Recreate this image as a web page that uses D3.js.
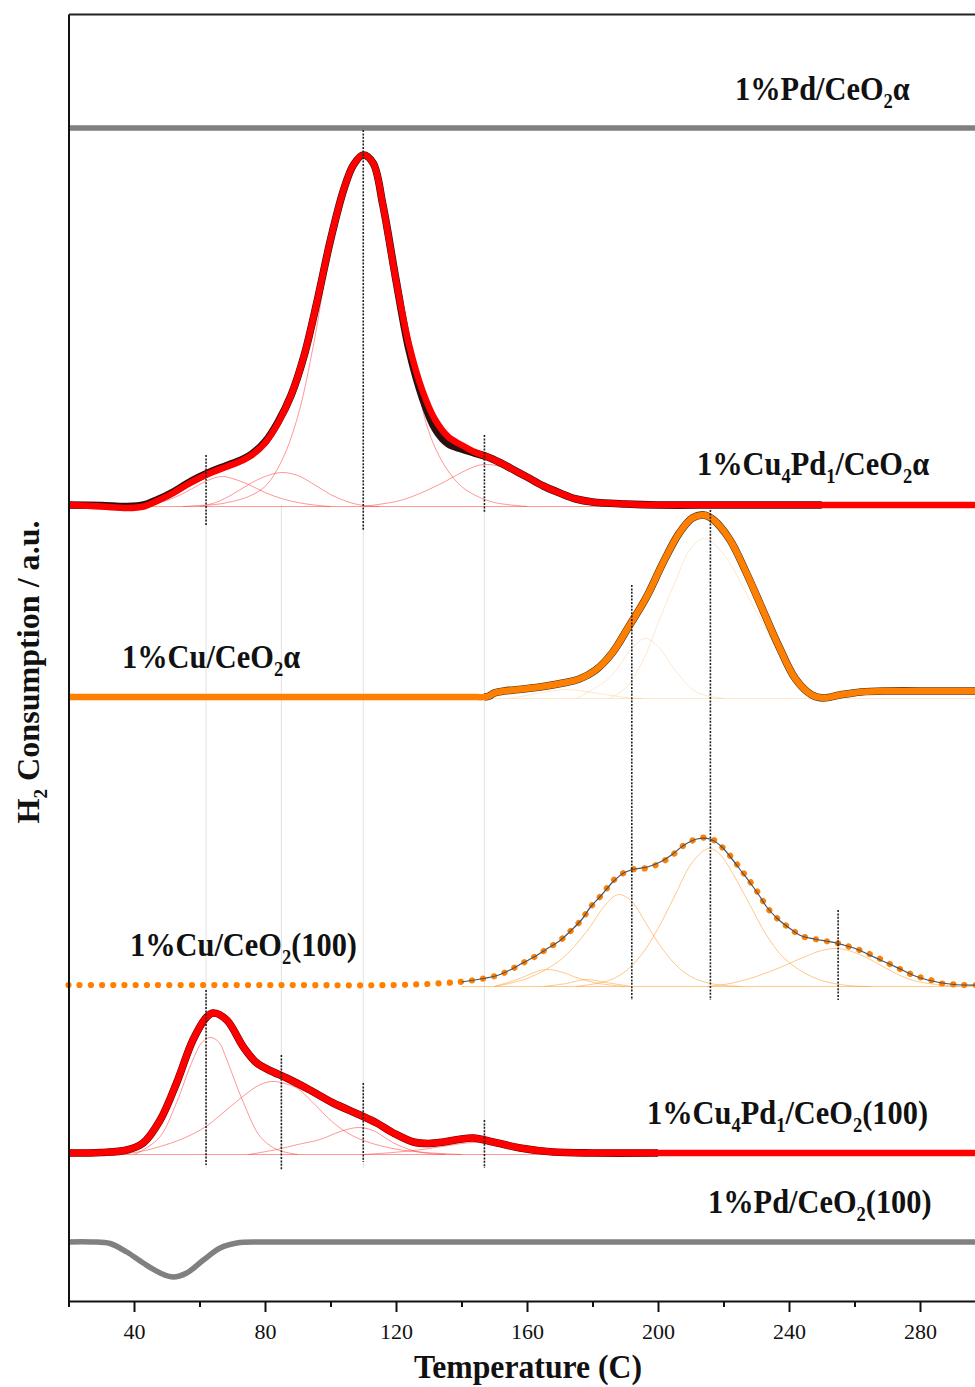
<!DOCTYPE html>
<html>
<head>
<meta charset="utf-8">
<script src="https://cdn.jsdelivr.net/npm/d3@7"></script>
<style>
  html, body { margin: 0; padding: 0; background: #fff; }
  svg { display: block; }
  text { font-family: "Liberation Serif", "Times New Roman", serif; fill: #111; }
</style>
</head>
<body>
<svg id="chart" width="975" height="1387"></svg>
<script>
// ---- Data: H2-TPR profiles (temperature in C, signal in a.u. above each trace's baseline) ----

// vertical offsets of the stacked traces (a.u.)
const offsets = {
  pdAlpha: 117.3,
  cuPdAlpha: 79.6,
  cuAlpha: 60.4,
  cu100: 31.6,
  cuPd100: 14.8,
  pd100: 5.9
};

// 1%Pd/CeO2 alpha
const pdAlpha = [[20, 0], [300, 0]];

// 1%Cu4Pd1/CeO2 alpha : fitted envelope, measured profile and deconvoluted peaks
const cuPdAlphaFit = [[20,0],[30,-0.15],[38,-0.3],[43,-0.15],[47,0.4],[52,1.2],[56,2.0],[60,2.7],[64,3.3],[68,3.8],[72,4.3],[76,5.0],[80,6.2],[84,8.2],[88,11.0],[92,15.0],[96,20.5],[100,26.5],[104,31.5],[107,34.0],[110,35.0],[113,34.2],[116,30.0],[120,22.5],[124,16.0],[128,11.5],[132,8.5],[136,6.8],[140,6.0],[144,5.3],[148,4.8],[152,4.2],[156,3.5],[160,2.8],[165,1.9],[170,1.2],[175,0.6],[180,0.3],[190,0.1],[200,0],[220,0],[250,0],[300,0]];
const cuPdAlphaMeas = [[20,0],[30,-0.05],[38,-0.15],[43,0],[47,0.5],[52,1.3],[56,2.1],[60,2.8],[64,3.4],[68,3.9],[72,4.4],[76,5.1],[80,6.3],[84,8.3],[88,11.0],[92,15.0],[96,20.5],[100,26.5],[104,31.5],[107,34.0],[110,35.0],[113,34.2],[116,30.0],[120,22.5],[124,15.5],[128,10.8],[132,7.6],[136,6.1],[140,5.6],[144,5.2],[148,4.8],[152,4.2],[156,3.5],[160,2.8],[165,1.9],[170,1.2],[175,0.6],[180,0.3],[190,0.1],[200,0],[220,0],[250,0]];
const cuPdAlphaPeaks = [
  [[40,0],[45,0.2],[50,0.6],[55,1.3],[60,2.2],[64,2.8],[67,3.0],[70,2.8],[75,2.2],[80,1.4],[85,0.8],[90,0.4],[95,0.15],[100,0]],
  [[60,0],[65,0.4],[70,1.2],[75,2.2],[80,3.0],[85,3.4],[90,3.1],[95,2.2],[100,1.2],[105,0.5],[110,0.1],[115,0]],
  [[55,0],[60,0.1],[65,0.2],[70,0.5],[75,1.0],[80,2.0],[85,4.5],[90,9.0],[95,16.5],[100,26.0],[105,32.5],[110,35.0],[115,32.0],[120,22.0],[125,14.5],[130,7.5],[135,4.0],[140,2.0],[145,1.0],[150,0.4],[160,0]],
  [[110,0],[120,0.5],[125,1.0],[130,1.7],[135,2.5],[140,3.4],[145,4.1],[148,4.2],[152,4.0],[158,3.2],[165,2.0],[172,1.0],[180,0.3],[190,0]]
];

// 1%Cu/CeO2 alpha
const cuAlphaFit = [[20,0],[60,0],[100,0],[130,0],[143,0],[147,0],[148.5,0.1],[150,0.4],[153,0.6],[156,0.7],[164,1.0],[171,1.4],[176,1.8],[181,2.7],[186,4.4],[191,7.0],[196.5,10.0],[201.5,13.4],[206.5,16.4],[210.5,17.9],[214,18.2],[217,17.7],[222,15.7],[227,12.4],[232,8.7],[237,5.0],[242,1.8],[247,0.2],[250.5,-0.1],[255.5,0.2],[262,0.5],[270,0.6],[285,0.6],[300,0.6]];
const cuAlphaPeaks = [
  [[155,0],[165,0.6],[172,0.9],[180,0.6],[190,0.1],[195,0]],
  [[175,0],[185,2.0],[192,5.0],[196,6.0],[200,5.2],[206,2.5],[212,0.6],[220,0]],
  [[185,0],[190,1.0],[195,3.5],[200,7.5],[205,11.5],[210,15.0],[214,16.0],[218,15.2],[222,13.5],[227,10.5],[232,7.5],[237,4.5],[242,2.0],[247,0.6],[255,0]]
];

// 1%Cu/CeO2(100) : measured points (dotted) and fit
const cu100Meas = [[20,0],[80,0],[120,0],[135,0.2],[142,0.4],[147.5,0.7],[151.4,1.0],[154.8,1.5],[158.7,2.2],[162.7,2.9],[166,3.6],[169.9,4.4],[173.3,5.4],[176.6,6.5],[179.4,7.8],[182.8,9.0],[186.2,10.4],[189.5,11.2],[192.9,11.6],[196.8,11.7],[200.7,12.2],[204.1,12.9],[208,14.0],[211.9,14.6],[215.8,14.7],[219.2,13.9],[222.6,12.7],[225.4,11.5],[228.2,10.3],[231,9.0],[233.2,7.8],[236.6,6.6],[240.5,5.6],[243.9,4.9],[247.8,4.6],[251.1,4.4],[254.5,4.2],[256.7,4.0],[260.6,3.6],[264.6,3.1],[267.9,2.6],[271.3,2.0],[275.2,1.4],[278.5,0.9],[282.4,0.6],[285.8,0.2],[289.1,0.1],[293,0],[300,0]];
const cu100Fit = [[140,0.3],[147.5,0.7],[151.4,1.0],[154.8,1.5],[158.7,2.2],[162.7,2.9],[166,3.6],[169.9,4.4],[173.3,5.4],[176.6,6.5],[179.4,7.8],[182.8,9.0],[186.2,10.3],[189.5,11.2],[192.9,11.6],[196.8,11.8],[200.7,12.3],[204.1,13.0],[208,14.0],[211.9,14.6],[215.8,14.6],[219.2,13.9],[222.6,12.6],[225.4,11.4],[228.2,10.2],[231,8.9],[233.2,7.8],[236.6,6.6],[240.5,5.6],[243.9,4.9],[247.8,4.6],[251.1,4.4],[254.5,4.2],[256.7,4.0],[260.6,3.6],[264.6,3.0],[267.9,2.5],[271.3,2.0],[275.2,1.4],[278.5,0.9],[282.4,0.5],[285.8,0.25],[289.1,0.1],[293,0],[300,0]];
const cu100Peaks = [
  [[150,0],[157,0.7],[163,1.5],[166,1.7],[170,1.5],[176,0.8],[182,0.3],[190,0]],
  [[165,0],[172,0.3],[178,0.7],[184,0.4],[192,0]],
  [[150,0],[160,0.8],[170,2.6],[178,5.4],[184,8.2],[188,9.2],[192,8.5],[196,6.5],[200,4.4],[205,2.3],[210,1.0],[216,0.3],[225,0]],
  [[175,0],[185,0.6],[190,1.5],[195,3.2],[200,5.8],[205,9.0],[210,12.2],[214,13.6],[216,13.8],[219,13.2],[223,11.2],[228,8.2],[233,5.2],[238,3.0],[244,1.5],[250,0.6],[258,0.1],[265,0]],
  [[215,0],[222,0.3],[230,1.0],[238,2.0],[245,3.0],[250,3.6],[255,3.8],[260,3.4],[266,2.5],[272,1.4],[278,0.6],[285,0.2],[292,0]]
];

// 1%Cu4Pd1/CeO2(100)
const cuPd100Fit = [[20,0],[30,0.05],[37.8,0.3],[42.8,1.0],[48,3.3],[53,7.0],[58,11.3],[62.2,13.6],[64.2,14.0],[68.3,13.3],[73.4,10.6],[77.5,9.0],[82.5,8.1],[86.6,7.5],[93.7,6.3],[100.8,5.0],[109,3.8],[114.1,3.0],[119.2,2.0],[125.3,1.1],[130,0.95],[134.5,1.1],[139,1.35],[143.6,1.5],[149.7,1.1],[157.9,0.5],[168,0.1],[180,0],[200,0],[240,0],[300,0]];
const cuPd100Meas = [[20,0],[30,0.05],[37.8,0.3],[42.8,1.0],[48,3.3],[53,7.0],[58,11.3],[62.2,13.6],[64.2,14.0],[68.3,13.3],[73.4,10.6],[77.5,9.0],[82.5,8.1],[86.6,7.5],[93.7,6.3],[100.8,5.0],[109,3.8],[114.1,3.0],[119.2,2.0],[125.3,1.1],[130,0.95],[134.5,1.1],[139,1.35],[143.6,1.5],[149.7,1.1],[157.9,0.5],[168,0.1],[180,0],[200,0]];
const cuPd100Peaks = [
  [[40,0],[43,0.5],[48,1.8],[53,5.2],[58,9.5],[61,11.3],[63.5,11.7],[66,11.2],[68.3,9.5],[73.4,5.2],[78.5,1.8],[83.6,0.5],[90,0]],
  [[35,0],[42,0.3],[48,0.8],[55,1.6],[62,2.8],[68,4.4],[74,6.0],[78,6.9],[82,7.3],[86,7.1],[90,6.6],[94,5.4],[101.5,3.0],[108.5,1.6],[119,0.6],[129,0.2],[140,0]],
  [[75,0],[83.6,0.5],[90,1.0],[96.8,1.5],[103,2.3],[108.5,2.7],[113,2.4],[119,1.2],[125,0.4],[130,0.1],[135,0]],
  [[110,0],[119,0.2],[128,0.5],[136,0.9],[143.6,1.2],[150,1.0],[160,0.2],[170,0]]
];

// 1%Pd/CeO2(100)
const pd100 = [[20,0],[27,0],[32.7,-0.15],[37.8,-1.0],[42.8,-2.1],[48,-3.1],[52,-3.5],[56.1,-3.1],[61.2,-1.8],[66.3,-0.6],[71.4,-0.1],[78.5,0],[90,0],[150,0],[300,0]];

// reduction peak positions: temperature and the a.u. span of each marker
const peakMarks = [
  { t: 62,  lo: 77.6, hi: 84.6 }, { t: 110, lo: 77.1, hi: 117.1 }, { t: 147, lo: 78.9, hi: 86.6 },
  { t: 192, lo: 30.1, hi: 71.6 }, { t: 216, lo: 30.1, hi: 79.1 }, { t: 255, lo: 30.1, hi: 39.1 },
  { t: 62,  lo: 13.6, hi: 31.1 }, { t: 85,  lo: 13.1, hi: 24.6 }, { t: 110, lo: 13.9, hi: 21.8 },
  { t: 147, lo: 13.3, hi: 18.1 }
];
// guide lines linking the Cu4Pd1 peaks of both supports
const guideTemps = [62, 85, 110, 147];

const majorTicks = [40, 80, 120, 160, 200, 240, 280];
const minorTicks = [20, 60, 100, 140, 180, 220, 260, 300];

// ---- Scales ----
const svg = d3.select("#chart");
const x = d3.scaleLinear().domain([20, 300]).range([68.5, 985.5]);
const y = d3.scaleLinear().domain([0, 128.7]).range([1301, 14]);

const smooth = d3.curveCatmullRom.alpha(0.5);
const lineAt = (off, shift = 0) => d3.line()
  .x(d => x(d[0]))
  .y(d => y(off + d[1]) + shift)
  .curve(smooth);

const plot = svg.append("g");

// faint guides
plot.selectAll("line.guide").data(guideTemps).join("line")
  .attr("x1", d => x(d)).attr("x2", d => x(d))
  .attr("y1", y(offsets.cuPdAlpha)).attr("y2", y(offsets.cuPd100 - 1.5))
  .attr("stroke", "#e2e2e2").attr("stroke-width", 1);

// component baselines + deconvoluted peaks
function components(peaks, off, color, opacity, baseFrom) {
  plot.append("line")
    .attr("x1", x(baseFrom)).attr("x2", x(300))
    .attr("y1", y(off) + 1.5).attr("y2", y(off) + 1.5)
    .attr("stroke", color).attr("stroke-opacity", opacity).attr("stroke-width", 1.2);
  peaks.forEach(p => {
    plot.append("path").datum(p)
      .attr("d", lineAt(off, 1.5))
      .attr("fill", "none").attr("stroke", color)
      .attr("stroke-opacity", opacity).attr("stroke-width", 1);
  });
}
components(cuPdAlphaPeaks, offsets.cuPdAlpha, "#ff3030", 0.5, 20);
components(cuAlphaPeaks, offsets.cuAlpha, "#ffa040", 0.25, 150);
components(cu100Peaks, offsets.cu100, "#ff9a30", 0.55, 140);
components(cuPd100Peaks, offsets.cuPd100, "#ff3030", 0.5, 20);

// thick traces
function trace(data, off, color, width) {
  plot.append("path").datum(data)
    .attr("d", lineAt(off))
    .attr("fill", "none").attr("stroke", color)
    .attr("stroke-width", width).attr("stroke-linejoin", "round");
}
trace(pdAlpha, offsets.pdAlpha, "#808080", 5.5);

trace(cuPdAlphaMeas, offsets.cuPdAlpha, "#2a1010", 7.6);
trace(cuPdAlphaFit, offsets.cuPdAlpha, "#ff0000", 6.5);

trace(cuAlphaFit.filter(d => d[0] >= 147), offsets.cuAlpha, "#4a3020", 7.6);
trace(cuAlphaFit, offsets.cuAlpha, "#ff8000", 6.5);

trace(cuPd100Meas, offsets.cuPd100, "#700000", 7.6);
trace(cuPd100Fit, offsets.cuPd100, "#ff0000", 6.5);

trace(pd100, offsets.pd100, "#808080", 5.5);

// dotted measured profile on the (100) support
plot.append("path").datum(cu100Meas)
  .attr("d", lineAt(offsets.cu100))
  .attr("fill", "none").attr("stroke", "#ff8000")
  .attr("stroke-width", 6.2).attr("stroke-linecap", "round")
  .attr("stroke-dasharray", "0.01 11.2");
plot.append("path").datum(cu100Fit)
  .attr("d", lineAt(offsets.cu100))
  .attr("fill", "none").attr("stroke", "#44546a").attr("stroke-width", 1.2);

// peak position markers
plot.selectAll("line.mark").data(peakMarks).join("line")
  .attr("x1", d => x(d.t)).attr("x2", d => x(d.t))
  .attr("y1", d => y(d.hi)).attr("y2", d => y(d.lo))
  .attr("stroke", "#222").attr("stroke-width", 1.6)
  .attr("stroke-dasharray", "2 1.4");

// ---- Trace labels (bold serif, slightly tall like the original typesetting) ----
function label(px, py, parts) {
  const g = svg.append("g").attr("transform", `translate(${px},${py}) scale(1.03,1.12)`);
  const t = g.append("text").attr("x", 0).attr("y", 0)
    .attr("font-weight", "bold").attr("font-size", 29.5);
  let wasSub = false;
  parts.forEach(([s, sub]) => {
    const ts = t.append("tspan").text(s);
    if (sub) { ts.attr("font-size", 18).attr("dy", wasSub ? 0 : 7); wasSub = true; }
    else { if (wasSub) ts.attr("dy", -7); wasSub = false; }
  });
}
label(735, 100, [["1%Pd/CeO"], ["2", 1], ["α"]]);
label(697, 475, [["1%Cu"], ["4", 1], ["Pd"], ["1", 1], ["/CeO"], ["2", 1], ["α"]]);
label(122, 668, [["1%Cu/CeO"], ["2", 1], ["α"]]);
label(130, 956, [["1%Cu/CeO"], ["2", 1], ["(100)"]]);
label(647, 1124, [["1%Cu"], ["4", 1], ["Pd"], ["1", 1], ["/CeO"], ["2", 1], ["(100)"]]);
label(708, 1213, [["1%Pd/CeO"], ["2", 1], ["(100)"]]);

// ---- Axes ----
const gx = svg.append("g").attr("transform", `translate(0,${y(0)})`)
  .call(d3.axisBottom(x).tickValues(majorTicks).tickSize(11).tickSizeOuter(0).tickPadding(11).tickFormat(d3.format("d")));
gx.select(".domain").attr("stroke", "#111").attr("stroke-width", 2);
gx.selectAll(".tick line").attr("stroke", "#111").attr("stroke-width", 2);
gx.selectAll(".tick text").attr("font-size", 22).attr("font-family", "Liberation Serif").attr("fill", "#111");

const gxm = svg.append("g").attr("transform", `translate(0,${y(0)})`)
  .call(d3.axisBottom(x).tickValues(minorTicks).tickSize(6).tickSizeOuter(0).tickFormat(""));
gxm.select(".domain").remove();
gxm.selectAll(".tick line").attr("stroke", "#111").attr("stroke-width", 2);

const gy = svg.append("g").attr("transform", `translate(${x(20)},0)`)
  .call(d3.axisLeft(y).tickValues([]).tickSizeOuter(0));
gy.select(".domain").attr("stroke", "#111").attr("stroke-width", 2);

const gt = svg.append("g").attr("transform", `translate(0,${y(128.7)})`)
  .call(d3.axisTop(x).tickValues([]).tickSizeOuter(0));
gt.select(".domain").attr("stroke", "#222").attr("stroke-width", 2);

svg.append("g").attr("transform", "translate(528,1378) scale(1.04,1.1)")
  .append("text")
  .attr("text-anchor", "middle").attr("font-weight", "bold").attr("font-size", 30.5)
  .text("Temperature (C)");

const yl = svg.append("g").attr("transform", "translate(39,672) rotate(-90) scale(1.07,1.08)")
  .append("text")
  .attr("text-anchor", "middle").attr("font-weight", "bold").attr("font-size", 30);
yl.append("tspan").text("H");
yl.append("tspan").text("2").attr("font-size", 18).attr("dy", 7);
yl.append("tspan").text(" Consumption / a.u.").attr("dy", -7);
</script>
</body>
</html>
